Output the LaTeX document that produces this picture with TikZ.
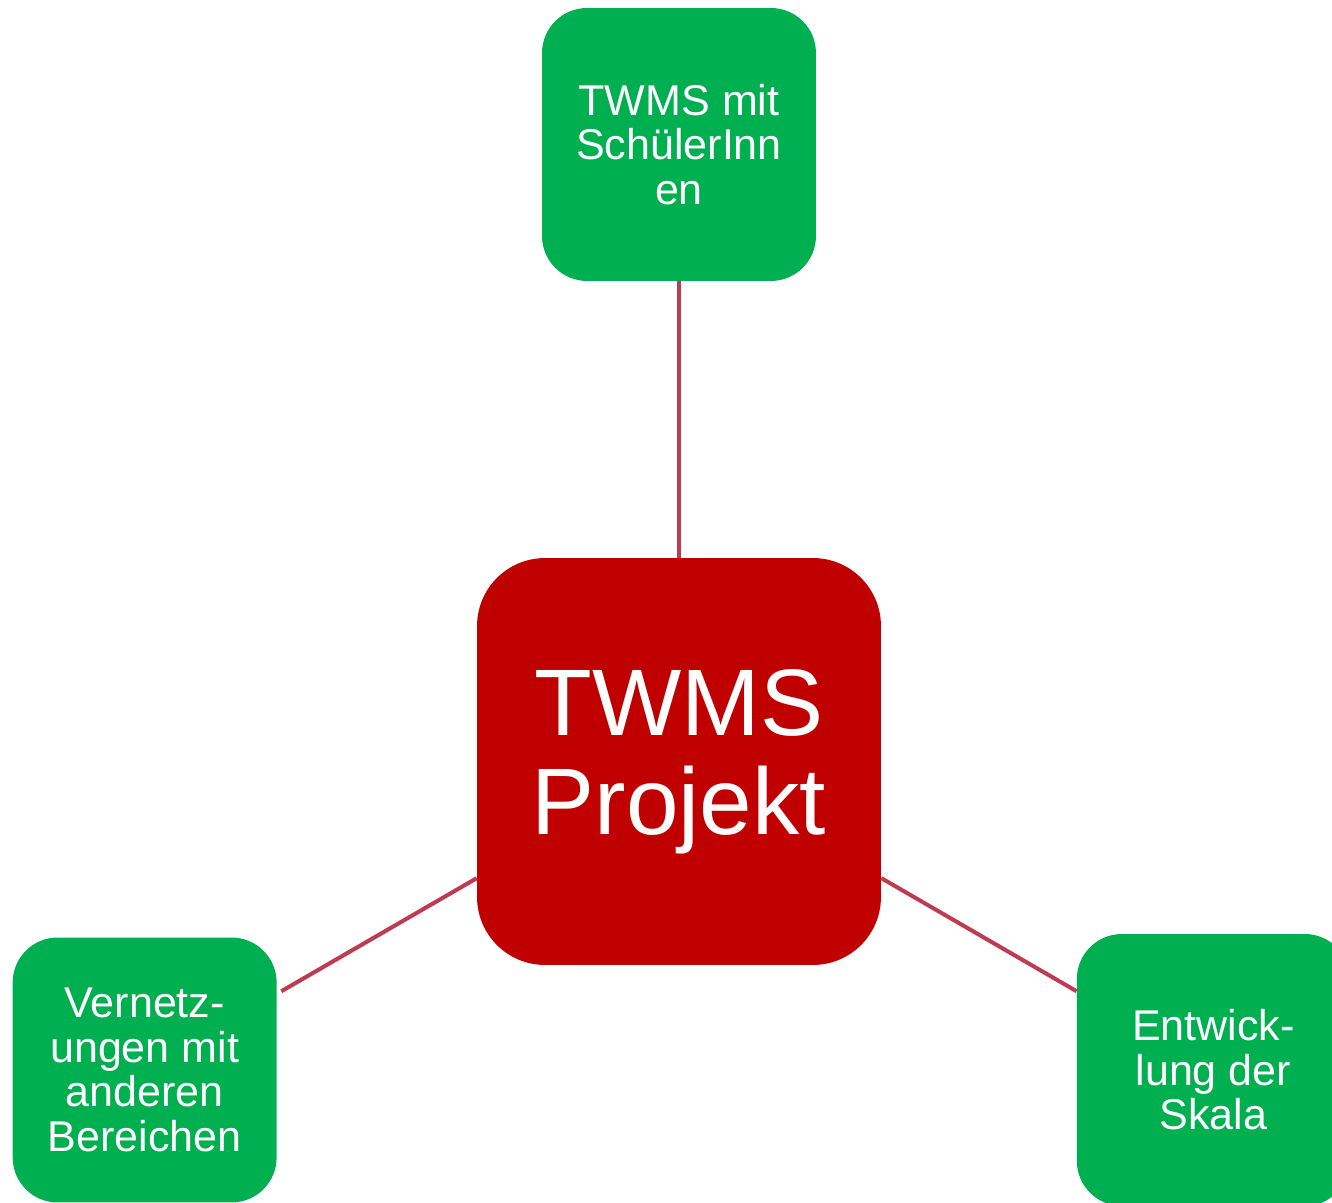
\documentclass[tikz,border=0pt]{standalone}
\usepackage{fontspec}
\setmainfont{Liberation Sans}
\usepackage{xcolor}
\usepackage{tikz}
\usetikzlibrary{calc}

\definecolor{leafGreen}{HTML}{00B050}
\definecolor{coreRed}{HTML}{C00000}
\definecolor{linkRed}{HTML}{BE3C52}

\tikzset{
	leaf/.style = {fill = leafGreen, text = white, rounded corners = 0.9cm, align = center, inner sep = 0pt, font = \fontsize{24.5}{25.3}\selectfont},
	core/.style = {fill = coreRed, text = white, rounded corners = 1.36cm, align = center, inner sep = 0pt, minimum width = 8.08cm, minimum height = 8.14cm, font = \fontsize{53.8}{56.3}\selectfont},
	link/.style = {draw = linkRed, line width = 2.3pt}
}

\begin{document}
\begin{tikzpicture}[x = 0.02cm, y = 0.02cm]
			\def\R{617};

			\useasboundingbox (-679,-441.5) rectangle (653,761.5);

			\begin{scope}
				\node [core] (projekt) at (0,0) {TWMS\\Projekt};
				\node [leaf, minimum width = 5.48cm, minimum height = 5.46cm] (schueler) at (90:\R) {TWMS mit\\SchülerInn\\en};
				\node [leaf, minimum width = 5.28cm, minimum height = 5.30cm] (vernetz) at (210:\R) {Vernetz-\\ungen mit\\anderen\\Bereichen};
				\node [leaf, minimum width = 5.46cm, minimum height = 5.44cm] (skala) at (330:\R) {Entwick-\\lung der\\Skala};
			\end{scope}

			\begin{scope}[link]
				\draw (projekt) -- (schueler);
				\draw [shorten >= 0.1cm] (projekt) -- (vernetz);
				\draw (projekt) -- (skala);
			\end{scope}
		\end{tikzpicture}
\end{document}
